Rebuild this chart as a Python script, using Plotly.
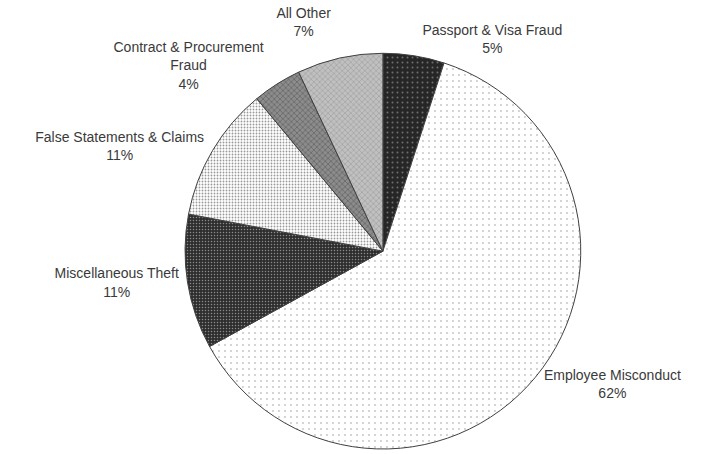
import plotly.graph_objects as go

categories = ["Passport & Visa Fraud", "Employee Misconduct", "Miscellaneous Theft",
              "False Statements & Claims", "Contract & Procurement<br>Fraud", "All Other"]
values = [5, 62, 11, 11, 4, 7]

bg_colors = ["#262626", "#ffffff", "#2e2e2e", "#ffffff", "#8c8c8c", "#c0c0c0"]
fg_colors = ["#b5b5b5", "#8a8a8a", "#e8e8e8", "#333333", "#303030", "#6e6e6e"]
shapes = [".", ".", ".", ".", "x", "x"]
sizes = [5, 6, 3, 3, 4, 4]
solidity = [0.12, 0.08, 0.2, 0.3, 0.3, 0.25]

fig = go.Figure(go.Pie(
    labels=categories,
    values=values,
    sort=False,
    direction="clockwise",
    rotation=0,
    textposition="outside",
    texttemplate="%{label}<br>%{percent:.0%}",
    textfont=dict(family="Liberation Sans, Arial, sans-serif", size=14, color="#3a3a3a"),
    marker=dict(
        colors=bg_colors,
        line=dict(color="#404040", width=1),
        pattern=dict(shape=shapes, fgcolor=fg_colors, bgcolor=bg_colors,
                     size=sizes, solidity=solidity, fillmode="overlay"),
    ),
    domain=dict(x=[(384 - 206.5) / 702, (384 + 206.5) / 702],
                y=[0, 413 / 454]),
    showlegend=False,
    hoverinfo="label+percent",
))

fig.update_layout(
    width=702, height=454,
    margin=dict(l=0, r=0, t=0, b=0),
    paper_bgcolor="white", plot_bgcolor="white",
)

post = """
var gd = document.getElementById('{plot_id}');
function dropLines(){ gd.querySelectorAll('path.textline').forEach(function(e){ e.remove(); }); }
dropLines();
gd.on('plotly_afterplot', dropLines);
"""
fig.write_html("out.html", post_script=post)
